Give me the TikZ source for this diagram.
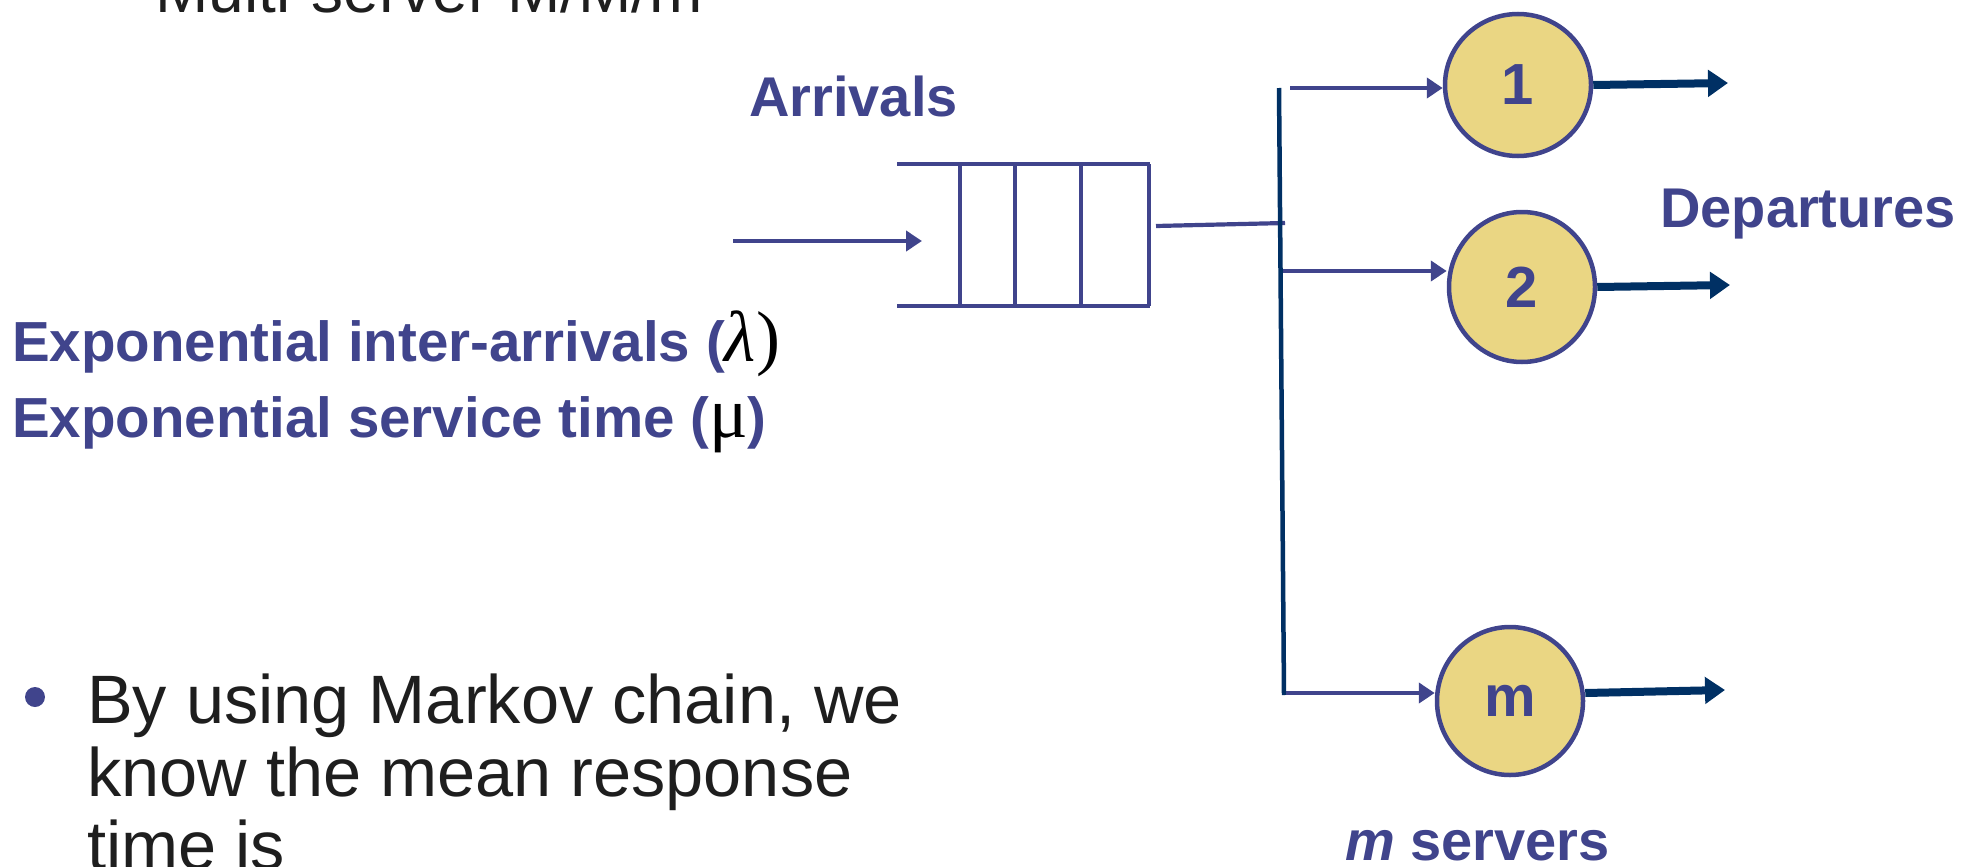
\documentclass[tikz,border=0pt]{standalone}
\usepackage{fontspec}
\setmainfont{Liberation Sans}
\newfontfamily\serifgr{Liberation Serif}
\usetikzlibrary{arrows.meta,shapes.geometric}
\definecolor{qblue}{RGB}{64,68,140}
\definecolor{qnavy}{RGB}{0,48,100}
\definecolor{qfill}{RGB}{234,214,131}
\definecolor{qtext}{RGB}{30,30,30}
\tikzset{
  lbl/.style={anchor=base west,inner sep=0pt,text=qblue,font=\fontsize{56}{60}\selectfont\bfseries},
  bodytxt/.style={anchor=base west,inner sep=0pt,text=qtext,font=\fontsize{68.5}{74}\selectfont},
  server/.style={ellipse,draw=qblue,line width=4.5pt,fill=qfill,inner sep=0pt,
    minimum width=146pt,minimum height=146pt,text=qblue,font=\fontsize{58}{60}\selectfont\bfseries},
  qline/.style={draw=qblue,line width=4.2pt},
  inarrow/.style={draw=qblue,line width=4pt,-{Triangle[length=16pt,width=20pt]}},
  outarrow/.style={draw=qnavy,line width=8pt,-{Triangle[length=20pt,width=26pt]}},
  bus/.style={draw=qnavy,line width=4.5pt},
}
\begin{document}
\begin{tikzpicture}[x=1pt,y=-1pt]
\useasboundingbox (0,0) rectangle (1975,867);
\clip (0,0) rectangle (1975,867);
% title (cut off)
\node[anchor=base west,inner sep=0pt,text=qtext,font=\fontsize{64}{70}\selectfont] (title) at (155,13) {Multi-server M/M/m};
% labels
\node[lbl] (arr) at (749,116) {Arrivals};
\node[lbl] (dep) at (1660,227) {Departures};
\node[lbl,font=\fontsize{56.5}{60}\selectfont\bfseries] (expl) at (12,361) {Exponential inter-arrivals (\textcolor{black}{\serifgr\fontsize{72}{72}\selectfont\mdseries\itshape λ\upshape)}};
\node[lbl,font=\fontsize{56.5}{60}\selectfont\bfseries] (expm) at (12,437) {Exponential service time (\textcolor{black}{\serifgr\fontsize{72}{72}\selectfont\mdseries μ})};
\node[lbl] (msrv) at (1345,860) {\textit{m} servers};
% body text
\fill[qblue] (35,697) circle (10);
\node[bodytxt] (b1) at (87,723) {By using Markov chain, we};
\node[bodytxt] (b2) at (87,796) {know the mean response};
\node[bodytxt] (b3) at (87,869) {time is};
% input arrow
\coordinate (ina) at (733,241);
\coordinate (inb) at (922,241);
\draw[inarrow] (ina) -- (inb);
% queue
\draw[qline] (897,164) -- (1150,164);
\draw[qline] (897,306) -- (1150,306);
\foreach \qx in {960,1015,1081,1149} \draw[qline] (\qx,164) -- (\qx,306);
% connector to bus
\coordinate (qout) at (1156,226);
\coordinate (busin) at (1285,223);
\draw[qline] (qout) -- (busin);
% bus
\coordinate (bustop) at (1279,88);
\coordinate (busbot) at (1284,695);
\draw[bus] (bustop) -- (busbot);
% servers
\node[server,minimum height=142pt] (s1) at (1518,85) {1};
\node[server,minimum height=150pt] (s2) at (1522,287) {2};
\node[server,minimum height=148pt] (sm) at (1510,701) {m};
% branches
\coordinate (br1) at (1290,88);
\coordinate (br2) at (1283,271);
\coordinate (brm) at (1286,693);
\draw[inarrow] (br1) -- (br1 -| s1.west);
\draw[inarrow] (br2) -- (br2 -| s2.west);
\draw[inarrow] (brm) -- (brm -| sm.west);
% outputs
\coordinate (o1) at (1728,83);
\coordinate (o2) at (1730,285);
\coordinate (om) at (1725,690);
\draw[outarrow] (s1.east) -- (o1);
\draw[outarrow] (s2.east) -- (o2);
\draw[outarrow] (sm.east) ++(0,-8) -- (om);
\end{tikzpicture}
\end{document}
